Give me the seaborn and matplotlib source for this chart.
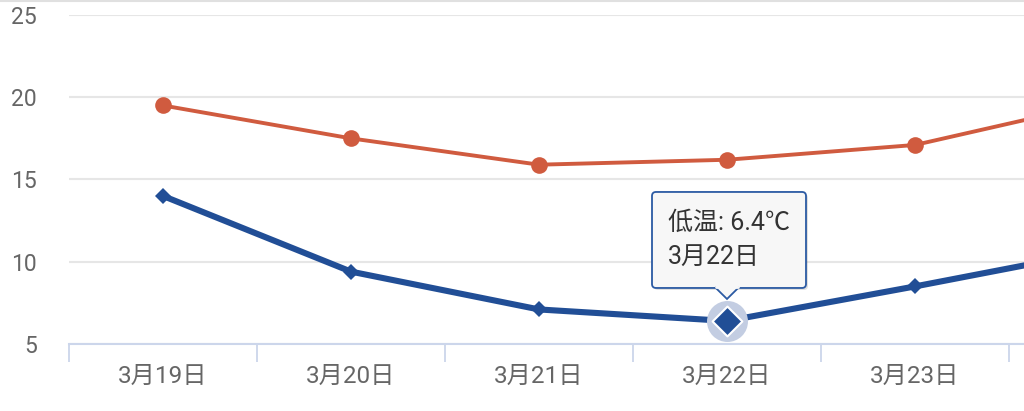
import numpy as np
import pandas as pd
import matplotlib
matplotlib.use("Agg")
import matplotlib.pyplot as plt
import seaborn as sns
from matplotlib.patches import FancyBboxPatch, Polygon
from matplotlib.lines import Line2D

# ---- data ----
dates = ["3月19日", "3月20日", "3月21日", "3月22日", "3月23日", "3月24日"]
high = [19.5, 17.5, 15.9, 16.2, 17.1, 19.7]
low = [14.0, 9.4, 7.1, 6.4, 8.5, 10.7]
y_ticks = [5, 10, 15, 20, 25]
hover_index = 3
tooltip_label = "低温"

RED = "#d05b3f"
BLUE = "#214e96"
TEXT = "#666666"

sns.set_theme(style="white")
plt.rcParams["font.family"] = ["Roboto", "Noto Sans CJK SC", "DejaVu Sans"]

W, H = 1024, 411
fig = plt.figure(figsize=(W / 100, H / 100), dpi=100)
left_px, right_px, top_px, bottom_px = 69, 1024, 15, 344
ax = fig.add_axes([left_px / W, 1 - bottom_px / H, (right_px - left_px) / W, (bottom_px - top_px) / H])

pos = np.arange(len(dates))
df = pd.DataFrame({"pos": pos, "high": high, "low": low})

sns.lineplot(data=df, x="pos", y="high", ax=ax, color=RED, lw=2.8,
             marker="o", markersize=12, markeredgewidth=0, zorder=4)
sns.lineplot(data=df, x="pos", y="low", ax=ax, color=BLUE, lw=4.4,
             marker="D", markersize=8.5, markeredgewidth=0, zorder=5)

# hover halo + highlighted marker
ax.scatter([pos[hover_index]], [low[hover_index]], s=870, color="#c3cde2", zorder=6, lw=0)
ax.scatter([pos[hover_index]], [low[hover_index]], s=230, marker="D", color=BLUE,
           edgecolor="white", linewidth=1.5, zorder=7)

ax.set_yticks(y_ticks)
ax.set_yticklabels([str(v) for v in y_ticks])
ax.yaxis.grid(True, color="#e6e6e6", lw=1.5)
ax.set_axisbelow(True)
ax.tick_params(axis="y", left=False, length=0, pad=23, labelsize=16.5, labelcolor=TEXT)

# x: boundary ticks (major) and centered labels (minor)
ax.set_xticks(np.arange(len(dates) + 1) - 0.5)
ax.set_xticklabels([])
ax.set_xticks(pos, minor=True)
ax.set_xticklabels(dates, minor=True)
ax.tick_params(axis="x", which="major", bottom=True, length=13, width=1.3, color="#ccd6eb", direction="out")
ax.tick_params(axis="x", which="minor", bottom=True, length=0, pad=15, labelsize=17.5, labelcolor=TEXT)

x_right = -0.5 + (right_px - left_px) / 188.0
ax.set_xlim(-0.5, x_right)
ax.set_ylim(5, 25)

for s in ["top", "right", "left"]:
    ax.spines[s].set_visible(False)
ax.spines["bottom"].set_color("#ccd6eb")
ax.spines["bottom"].set_linewidth(1.5)
ax.set_xlabel("")
ax.set_ylabel("")

# top border line
fig.add_artist(Line2D([0, 1], [1 - 1.5 / H, 1 - 1.5 / H], color="#e0e0e0", lw=1.5))

# tooltip anchored to hovered point
fig.canvas.draw()
px, py = ax.transData.transform((pos[hover_index], low[hover_index]))
bw, bh = 154, 96
bx0 = px - 75
by_bottom = py + 33  # display coords: up is positive
shadow = FancyBboxPatch((bx0 + 2, by_bottom - 2), bw, bh, boxstyle="round,pad=0,rounding_size=4",
                        transform=None, facecolor="#000000", alpha=0.12, lw=0, zorder=18)
fig.add_artist(shadow)
box = FancyBboxPatch((bx0, by_bottom), bw, bh, boxstyle="round,pad=0,rounding_size=4",
                     transform=None, facecolor="#f7f7f7", edgecolor="#2b5aa3", lw=1.3, zorder=19)
fig.add_artist(box)
tri = Polygon([[px - 12, by_bottom + 0.8], [px, by_bottom - 11], [px + 12, by_bottom + 0.8]],
              closed=False, transform=None, facecolor="#f7f7f7", edgecolor="#2b5aa3", lw=1.3, zorder=20)
fig.add_artist(tri)
fig.add_artist(Line2D([px - 11, px + 11], [by_bottom + 0.8, by_bottom + 0.8], transform=None,
                      color="#f7f7f7", lw=2, zorder=21))
fig.text((bx0 + 16) / W, (by_bottom + bh - 31) / H,
         f"{tooltip_label}: {low[hover_index]}℃", fontsize=18, color="#333333",
         va="center", ha="left", zorder=22)
fig.text((bx0 + 16) / W, (by_bottom + bh - 65) / H,
         dates[hover_index], fontsize=18, color="#333333",
         va="center", ha="left", zorder=22)

fig.savefig("out.png", dpi=100)
